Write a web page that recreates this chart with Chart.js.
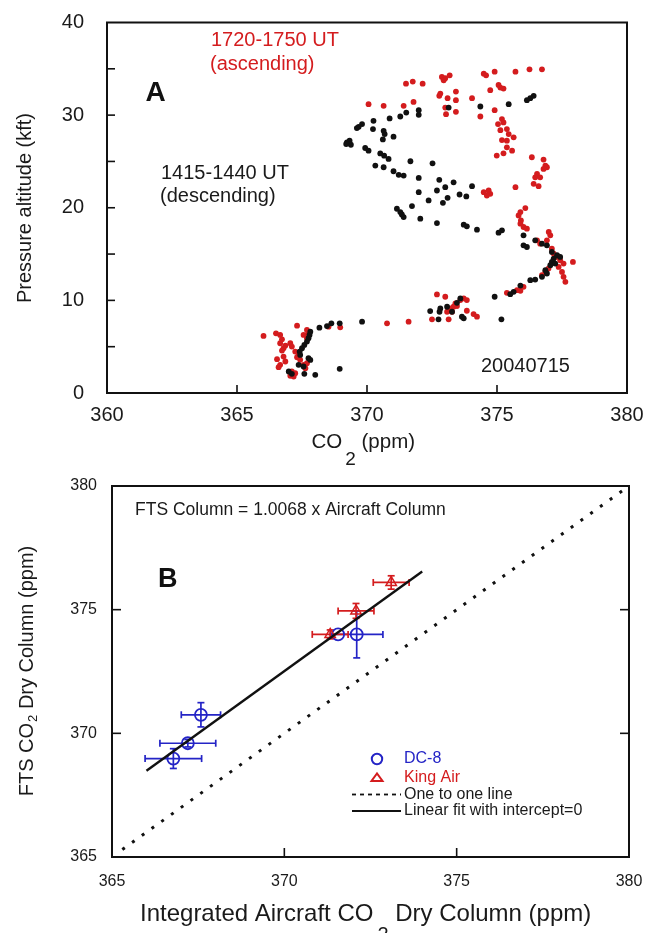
<!DOCTYPE html>
<html><head><meta charset="utf-8">
<script src="https://cdn.jsdelivr.net/npm/chart.js@4/dist/chart.umd.min.js"></script>
<style>
html,body{margin:0;padding:0;background:#fff;width:645px;height:933px;overflow:hidden;}
canvas{position:absolute;left:0;}
#ca{top:0;} #cb{top:465px;}
</style></head><body>
<canvas id="ca" width="645" height="465"></canvas>
<canvas id="cb" width="645" height="468"></canvas>
<script>
// ---------- Panel A data: CO2 (ppm) vs pressure altitude (kft) ----------
const descCO2 = [376.41,376.28,376.15,375.45,374.36,373.14,371.99,371.99,371.51,371.28,370.87,370.25,369.81,369.68,369.61,370.23,370.64,370.68,371.02,370.61,369.33,369.23,369.38,369.2,369.93,370.06,370.51,370.66,370.83,371.67,372.52,370.32,370.64,371.02,371.22,371.41,371.99,372.78,373.33,374.04,373.01,372.69,371.99,373.56,373.82,373.1,372.37,372.92,371.73,371.15,371.28,371.34,371.41,372.05,372.69,373.72,373.84,374.23,375.19,375.06,376.02,376.47,376.73,376.02,376.92,376.15,377.11,377.31,377.43,377.18,377.11,377.24,377.05,376.86,376.92,376.73,376.47,376.28,375.9,375.64,375.51,374.91,373.59,373.46,373.08,372.82,372.43,372.79,373.27,373.65,373.72,372.75,375.17,369.81,368.95,368.63,368.46,368.17,367.82,367.79,367.75,367.69,367.59,367.5,367.41,367.43,367.75,367.82,367.37,367.56,368.95,366.99,367.11,367.59,368.01];
const descAlt = [32.08,31.83,31.61,31.18,30.93,30.82,30.53,30.03,30.28,29.85,29.64,29.39,29.03,28.74,28.6,28.49,28.31,27.95,27.67,27.38,27.24,27.06,26.8,26.88,26.45,26.16,25.87,25.62,25.27,25.02,24.8,24.55,24.37,23.94,23.55,23.47,23.22,23.01,22.75,22.33,22.22,21.86,21.68,21.43,21.22,21.07,20.79,20.53,20.18,19.89,19.53,19.28,18.99,18.82,18.35,18.17,17.99,17.63,17.56,17.31,17.02,16.48,16.12,15.94,15.94,15.76,15.23,14.87,14.69,14.51,14.15,13.97,13.79,13.26,12.9,12.54,12.25,12.18,11.6,10.92,10.67,10.39,10.21,9.74,9.31,9.13,8.84,8.77,8.77,8.24,8.06,7.95,7.95,7.7,7.52,7.52,7.23,7.05,6.62,6.27,5.91,5.55,5.19,4.83,4.47,4.11,3.75,3.57,3.04,2.86,2.61,2.32,2.07,2.07,1.96];
const ascCO2 = [376.73,376.25,375.71,374.91,374.49,374.58,373.18,372.88,373.01,372.95,371.76,371.5,372.14,375.06,375.13,375.25,374.74,373.42,372.82,372.78,373.1,374.04,373.42,371.79,370.06,370.64,371.41,373.01,374.91,373.42,373.04,374.36,375.19,375.25,375.04,375.38,375.13,375.45,375.64,375.19,375.38,375.38,375.58,375.25,374.99,376.34,376.79,376.86,376.92,376.79,376.54,376.47,376.66,376.41,376.6,375.71,374.68,374.49,374.74,374.61,376.09,375.9,375.83,375.92,375.9,376.02,376.15,376.99,377.05,376.92,376.54,376.66,377.11,377.18,377.31,377.43,377.92,377.56,377.37,376.98,377.5,376.86,376.73,377.56,377.63,376.02,375.77,375.9,375.38,372.69,373.01,373.72,373.59,373.84,373.46,373.4,373.33,373.2,373.84,373.27,373.08,374.1,374.23,372.5,373.14,371.6,370.77,367.31,368.52,368.97,367.69,366.5,367.75,366.66,367.56,366.02,367.69,366.73,366.66,367.05,366.86,367.11,366.79,366.73,367.24,367.37,366.79,367.31,366.54,367.43,366.86,367.69,366.66,367.56,366.6,367.63,367.11,367.24,367.05,367.18];
const ascAlt = [34.94,34.94,34.69,34.69,34.48,34.3,34.3,34.12,33.98,33.76,33.62,33.4,33.4,33.26,32.97,32.87,32.69,32.54,32.33,32.08,31.83,31.83,31.61,31.43,31.18,31.0,31.0,30.82,30.53,30.36,30.1,29.85,29.57,29.21,29.03,28.49,28.38,27.95,27.6,27.31,27.24,26.52,26.16,25.88,25.63,25.45,25.2,24.55,24.37,24.19,23.65,23.29,23.29,22.58,22.33,22.22,21.86,21.68,21.5,21.32,19.96,19.53,19.17,18.63,18.28,17.92,17.74,17.38,17.02,16.48,16.48,16.12,15.58,15.05,14.69,14.33,14.15,13.97,13.61,13.43,13.07,13.07,12.72,12.54,12.0,11.46,11.1,11.03,10.82,10.64,10.39,10.21,10.03,10.03,9.38,9.67,9.31,9.13,8.88,8.77,8.77,8.52,8.24,7.95,7.95,7.7,7.52,7.27,7.16,7.09,6.8,6.44,6.44,6.27,6.27,6.16,5.91,5.8,5.37,5.37,5.12,5.01,4.83,4.58,4.47,4.22,3.93,3.86,3.65,3.58,3.4,3.22,3.04,3.04,2.79,2.68,2.32,2.14,1.86,1.78];
const xTicksA = [360, 365, 370, 375, 380];
const yTicksA = [0, 10, 20, 30, 40];
const yMarksA = [5, 10, 15, 20, 25, 30, 35];
const xMarksA = [365, 370, 375];

// ---------- Panel B data: FTS vs aircraft column ----------
const dc8X    = [366.78, 367.2, 367.58, 371.56, 372.1];
const dc8Y    = [368.98, 369.6, 370.75, 374.0, 374.0];
const dc8XErr = [0.82, 0.81, 0.57, 0.0, 0.76];
const dc8YErr = [0.4, 0.15, 0.49, 0.0, 0.95];
const kingX    = [371.33, 372.08, 373.1];
const kingY    = [374.0, 374.95, 376.1];
const kingXErr = [0.52, 0.52, 0.52];
const kingYErr = [0.18, 0.3, 0.27];
const fitX = [366.0, 374.0];
const fitY = [368.49, 376.54];
const oneX = [365.3, 380.0];
const oneY = [365.3, 380.0];
const ticksB = [365, 370, 375, 380];
const marksB = [370, 375];

const FONT = "'Liberation Sans', Arial, Helvetica, sans-serif";
const RED = '#d41c1e', BLUE = '#2424c6', BLK = '#111';

function pts(xs, ys) { return xs.map((v, i) => ({x: v, y: ys[i]})); }

// frame + inward tick marks
const frameTicks = {
  id: 'frameTicks',
  afterDatasetsDraw(chart, args, o) {
    const {ctx, chartArea: a, scales} = chart;
    ctx.save();
    ctx.strokeStyle = BLK; ctx.lineWidth = o.lw || 2;
    ctx.strokeRect(a.left, a.top, a.right - a.left, a.bottom - a.top);
    ctx.lineWidth = 1.6;
    const L = o.len || 8;
    const ln = (x1, y1, x2, y2) => { ctx.beginPath(); ctx.moveTo(x1, y1); ctx.lineTo(x2, y2); ctx.stroke(); };
    (o.bottom || []).forEach(v => { const x = scales.x.getPixelForValue(v); ln(x, a.bottom, x, a.bottom - L); });
    (o.left || []).forEach(v => { const y = scales.y.getPixelForValue(v); ln(a.left, y, a.left + L, y); });
    (o.right || []).forEach(v => { const y = scales.y.getPixelForValue(v); ln(a.right, y, a.right - L, y); });
    ctx.restore();
  }
};

// rich text (segments with subscripts), optionally rotated
function drawRich(ctx, segs, x, y, align, rot) {
  ctx.save();
  ctx.translate(x, y);
  if (rot) ctx.rotate(-Math.PI / 2);
  ctx.textBaseline = 'alphabetic';
  ctx.textAlign = 'left';
  let w = 0;
  segs.forEach(s => { ctx.font = s.font; s.w = ctx.measureText(s.t).width; w += s.w + (s.gap || 0); });
  let cx = align === 'center' ? -w / 2 : 0;
  segs.forEach(s => {
    cx += (s.gap || 0);
    ctx.font = s.font; ctx.fillStyle = s.color || '#1a1a1a';
    ctx.fillText(s.t, cx, s.dy || 0);
    cx += s.w;
  });
  ctx.restore();
}
const texts = {
  id: 'texts',
  afterDraw(chart, args, o) {
    const ctx = chart.ctx;
    (o.items || []).forEach(it => drawRich(ctx, it.segs, it.x, it.y, it.align, it.rot));
  }
};

// error bars drawn through the scales
const errorBars = {
  id: 'errorBars',
  beforeDatasetsDraw(chart, args, o) {
    const {ctx, scales: {x, y}} = chart;
    const ln = (x1, y1, x2, y2) => { ctx.beginPath(); ctx.moveTo(x1, y1); ctx.lineTo(x2, y2); ctx.stroke(); };
    (o.sets || []).forEach(s => {
      ctx.save(); ctx.strokeStyle = s.color; ctx.lineWidth = 1.7;
      const c = 3.5;
      s.x.forEach((xv, i) => {
        const px = x.getPixelForValue(xv), py = y.getPixelForValue(s.y[i]);
        if (s.xerr[i] > 0) {
          const x1 = x.getPixelForValue(xv - s.xerr[i]), x2 = x.getPixelForValue(xv + s.xerr[i]);
          ln(x1, py, x2, py); ln(x1, py - c, x1, py + c); ln(x2, py - c, x2, py + c);
        }
        if (s.yerr[i] > 0) {
          const y1 = y.getPixelForValue(s.y[i] - s.yerr[i]), y2 = y.getPixelForValue(s.y[i] + s.yerr[i]);
          ln(px, y1, px, y2); ln(px - c, y1, px + c, y1); ln(px - c, y2, px + c, y2);
        }
      });
      ctx.restore();
    });
  }
};

// legend inside panel B
const legendB = {
  id: 'legendB',
  afterDraw(chart) {
    const ctx = chart.ctx;
    ctx.save();
    const mx = 377, tx = 404;
    const rows = [294, 312.5, 329.5, 346];
    ctx.lineWidth = 2;
    ctx.strokeStyle = BLUE;
    ctx.beginPath(); ctx.arc(mx, rows[0], 5.2, 0, Math.PI * 2); ctx.stroke();
    ctx.strokeStyle = RED;
    ctx.beginPath(); ctx.moveTo(mx - 5.5, rows[1] + 3.5); ctx.lineTo(mx + 5.5, rows[1] + 3.5); ctx.lineTo(mx, rows[1] - 4); ctx.closePath(); ctx.stroke();
    ctx.strokeStyle = BLK;
    ctx.lineWidth = 1.8; ctx.setLineDash([4, 4]);
    ctx.beginPath(); ctx.moveTo(352, rows[2]); ctx.lineTo(401, rows[2]); ctx.stroke();
    ctx.setLineDash([]); ctx.lineWidth = 2.2;
    ctx.beginPath(); ctx.moveTo(352, rows[3]); ctx.lineTo(401, rows[3]); ctx.stroke();
    ctx.font = '16px ' + FONT; ctx.textBaseline = 'middle'; ctx.textAlign = 'left';
    ctx.fillStyle = BLUE; ctx.fillText('DC-8', tx, rows[0]);
    ctx.fillStyle = RED; ctx.fillText('King Air', tx, rows[1]);
    ctx.fillStyle = '#1a1a1a'; ctx.fillText('One to one line', tx, rows[2]);
    ctx.fillText('Linear fit with intercept=0', tx, rows[3]);
    ctx.restore();
  }
};

const F = (s, b) => (b ? 'bold ' : '') + s + 'px ' + FONT;

// ---------------- Chart A ----------------
new Chart(document.getElementById('ca'), {
  type: 'scatter',
  data: { datasets: [
    { label: '1415-1440 UT (descending)', data: pts(descCO2, descAlt), backgroundColor: BLK, borderWidth: 0, pointRadius: 2.9, order: 0 },
    { label: '1720-1750 UT (ascending)', data: pts(ascCO2, ascAlt), backgroundColor: RED, borderWidth: 0, pointRadius: 2.9, order: 1 }
  ]},
  options: {
    responsive: false, animation: false, devicePixelRatio: 1,
    layout: { padding: { left: 0, top: 22.5, right: 18, bottom: 0 } },
    plugins: {
      legend: { display: false }, tooltip: { enabled: false },
      frameTicks: { bottom: xMarksA, left: yMarksA, len: 8, lw: 2 },
      texts: { items: [
        { x: 211, y: 46, segs: [{ t: '1720-1750 UT', font: F(20), color: RED }] },
        { x: 210, y: 70, segs: [{ t: '(ascending)', font: F(20), color: RED }] },
        { x: 145.5, y: 101, segs: [{ t: 'A', font: F(28, true), color: BLK }] },
        { x: 161, y: 179, segs: [{ t: '1415-1440 UT', font: F(20) }] },
        { x: 160, y: 202, segs: [{ t: '(descending)', font: F(20) }] },
        { x: 481, y: 372, segs: [{ t: '20040715', font: F(20) }] },
        { x: 311.5, y: 448, segs: [{ t: 'CO', font: F(20.5) }, { t: '2', font: F(19), dy: 16.5, gap: 3 }, { t: ' (ppm)', font: F(20.5) }] },
        { x: 31, y: 208, align: 'center', rot: true, segs: [{ t: 'Pressure altitude (kft)', font: F(20) }] }
      ]}
    },
    scales: {
      x: { type: 'linear', min: 360, max: 380,
        afterBuildTicks: s => { s.ticks = xTicksA.map(v => ({ value: v })); },
        ticks: { font: { family: FONT, size: 20 }, color: '#1a1a1a', padding: 10.5, maxRotation: 0, autoSkip: false },
        grid: { display: false, drawTicks: false }, border: { display: false },
        afterFit: s => { s.height = 465 - 393; s.paddingLeft = 0; s.paddingRight = 0; } },
      y: { type: 'linear', min: 0, max: 40,
        afterBuildTicks: s => { s.ticks = yTicksA.map(v => ({ value: v })); },
        ticks: { font: { family: FONT, size: 20 }, color: '#1a1a1a', padding: 23, autoSkip: false },
        grid: { display: false, drawTicks: false }, border: { display: false },
        afterFit: s => { s.width = 107; s.paddingTop = 0; s.paddingBottom = 0; } }
    }
  },
  plugins: [frameTicks, texts]
});

// ---------------- Chart B ----------------
new Chart(document.getElementById('cb'), {
  type: 'scatter',
  data: { datasets: [
    { type: 'line', label: 'Linear fit with intercept=0', data: pts(fitX, fitY), borderColor: BLK, borderWidth: 2.4, pointRadius: 0, fill: false, order: 0 },
    { type: 'line', label: 'One to one line', data: pts(oneX, oneY), borderColor: BLK, borderWidth: 3, borderDash: [3, 9], pointRadius: 0, fill: false, order: 3 },
    { label: 'DC-8', data: pts(dc8X, dc8Y), pointStyle: 'circle', pointRadius: 6, borderColor: BLUE, borderWidth: 1.8, backgroundColor: 'rgba(0,0,0,0)', order: 2 },
    { label: 'King Air', data: pts(kingX, kingY), pointStyle: 'triangle', pointRadius: 6, borderColor: RED, borderWidth: 1.5, backgroundColor: 'rgba(0,0,0,0)', order: 1 }
  ]},
  options: {
    responsive: false, animation: false, devicePixelRatio: 1,
    layout: { padding: { left: 0, top: 21, right: 16, bottom: 0 } },
    plugins: {
      legend: { display: false }, tooltip: { enabled: false },
      frameTicks: { bottom: marksB, left: marksB, right: marksB, len: 9, lw: 2 },
      errorBars: { sets: [
        { x: dc8X, y: dc8Y, xerr: dc8XErr, yerr: dc8YErr, color: BLUE },
        { x: kingX, y: kingY, xerr: kingXErr, yerr: kingYErr, color: RED }
      ]},
      texts: { items: [
        { x: 135, y: 50, segs: [{ t: 'FTS Column = 1.0068 x Aircraft Column', font: F(17.5) }] },
        { x: 158, y: 122, segs: [{ t: 'B', font: F(27, true), color: BLK }] },
        { x: 140, y: 456, segs: [{ t: 'Integrated Aircraft CO', font: F(24) }, { t: '2', font: F(20), dy: 20, gap: 4 }, { t: ' Dry Column (ppm)', font: F(24) }] },
        { x: 33, y: 206, align: 'center', rot: true, segs: [{ t: 'FTS CO', font: F(20) }, { t: '2', font: F(13), dy: 4, gap: 1 }, { t: ' Dry Column (ppm)', font: F(20) }] }
      ]}
    },
    scales: {
      x: { type: 'linear', min: 365, max: 380,
        afterBuildTicks: s => { s.ticks = ticksB.map(v => ({ value: v })); },
        ticks: { font: { family: FONT, size: 16 }, color: '#1a1a1a', padding: 15, maxRotation: 0, autoSkip: false },
        grid: { display: false, drawTicks: false }, border: { display: false },
        afterFit: s => { s.height = 468 - 392; s.paddingLeft = 0; s.paddingRight = 0; } },
      y: { type: 'linear', min: 365, max: 380,
        afterBuildTicks: s => { s.ticks = ticksB.map(v => ({ value: v })); },
        ticks: { font: { family: FONT, size: 16 }, color: '#1a1a1a', padding: 15, autoSkip: false },
        grid: { display: false, drawTicks: false }, border: { display: false },
        afterFit: s => { s.width = 112; s.paddingTop = 0; s.paddingBottom = 0; } }
    }
  },
  plugins: [errorBars, frameTicks, texts, legendB]
});
</script></body></html>
